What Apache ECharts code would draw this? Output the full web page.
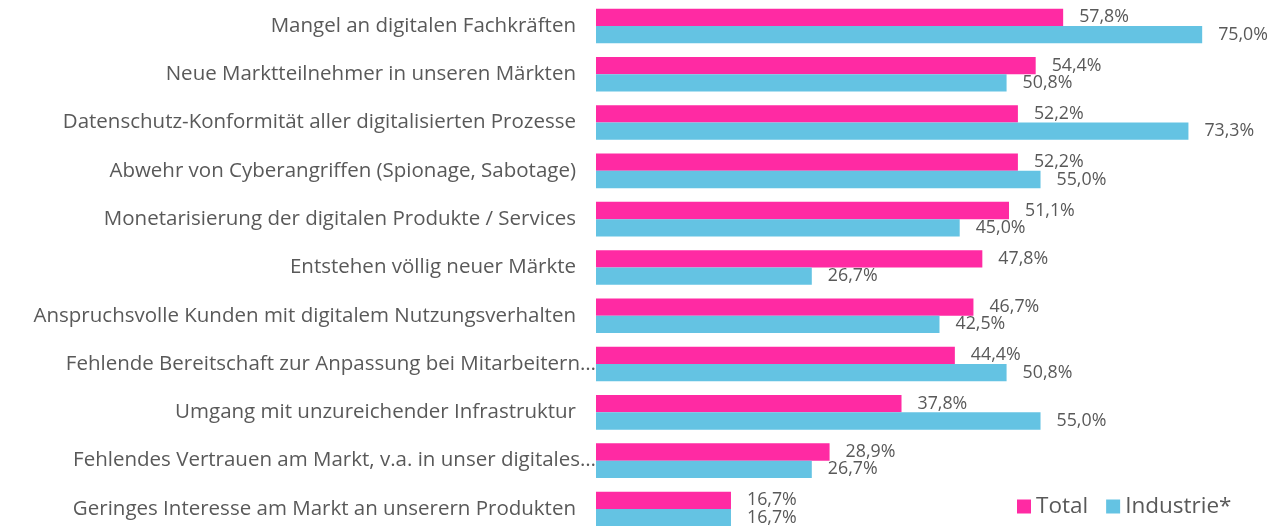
<!DOCTYPE html>
<html>
<head>
<meta charset="utf-8">
<script src="https://cdn.jsdelivr.net/npm/echarts@6/dist/echarts.min.js"></script>
<style>
  html, body { margin: 0; padding: 0; background: #fff; }
  #main { width: 1286px; height: 526px; }
</style>
</head>
<body>
<div id="main"></div>
<script>
// Kategorien (von oben nach unten)
const categories = [
  'Mangel an digitalen Fachkräften',
  'Neue Marktteilnehmer in unseren Märkten',
  'Datenschutz-Konformität aller digitalisierten Prozesse',
  'Abwehr von Cyberangriffen (Spionage, Sabotage)',
  'Monetarisierung der digitalen Produkte / Services',
  'Entstehen völlig neuer Märkte',
  'Anspruchsvolle Kunden mit digitalem Nutzungsverhalten',
  'Fehlende Bereitschaft zur Anpassung bei Mitarbeitern…',
  'Umgang mit unzureichender Infrastruktur',
  'Fehlendes Vertrauen am Markt, v.a. in unser digitales…',
  'Geringes Interesse am Markt an unserern Produkten'
];
const totalValues = [57.8, 54.4, 52.2, 52.2, 51.1, 47.8, 46.7, 44.4, 37.8, 28.9, 16.7];
const industrieValues = [75.0, 50.8, 73.3, 55.0, 45.0, 26.7, 42.5, 50.8, 55.0, 26.7, 16.7];

const totalColor = '#ff2aa3';
const industrieColor = '#64c3e3';
const textColor = '#595959';
const fontFamily = '"Open Sans", "Noto Sans", sans-serif';

const fmt = (p) => p.value.toFixed(1).replace('.', ',') + '%';

const chart = echarts.init(document.getElementById('main'));

chart.setOption({
  animation: false,
  textStyle: { fontFamily: fontFamily },
  legend: {
    left: 1012,
    top: 490,
    itemWidth: 14,
    itemHeight: 14,
    itemGap: 18,
    icon: 'rect',
    textStyle: { color: textColor, fontSize: 22.5, fontFamily: fontFamily },
    data: ['Total', 'Industrie*']
  },
  grid: {
    left: 596,
    top: 1.8,
    width: 687,
    height: 531.3,
    outerBoundsMode: 'none'
  },
  xAxis: {
    type: 'value',
    min: 0,
    max: 85,
    show: false
  },
  yAxis: {
    type: 'category',
    inverse: true,
    data: categories,
    axisLine: { show: false },
    axisTick: { show: false },
    axisLabel: {
      margin: 0,
      color: textColor,
      fontSize: 20.5,
      fontFamily: fontFamily,
      formatter: (v) => v.endsWith('…') ? '{t|' + v + '}' : '{n|' + v + '}',
      rich: {
        n: { padding: [0, 20, 0, 0], fontSize: 20.5, color: textColor, fontFamily: fontFamily },
        t: { padding: [0, 0, 0, 0], fontSize: 20.5, color: textColor, fontFamily: fontFamily }
      }
    }
  },
  series: [
    {
      name: 'Total',
      type: 'bar',
      data: totalValues,
      barWidth: 17.3,
      barGap: '0%',
      itemStyle: { color: totalColor },
      label: {
        show: true,
        position: 'right',
        distance: 16,
        color: textColor,
        fontSize: 17.8,
        fontFamily: fontFamily,
        formatter: fmt
      }
    },
    {
      name: 'Industrie*',
      type: 'bar',
      data: industrieValues,
      barWidth: 17.3,
      barGap: '0%',
      itemStyle: { color: industrieColor },
      label: {
        show: true,
        position: 'right',
        distance: 16,
        color: textColor,
        fontSize: 17.8,
        fontFamily: fontFamily,
        formatter: fmt
      }
    }
  ]
});

window.addEventListener('resize', () => {
  chart.resize();
});
</script>
</body>
</html>
